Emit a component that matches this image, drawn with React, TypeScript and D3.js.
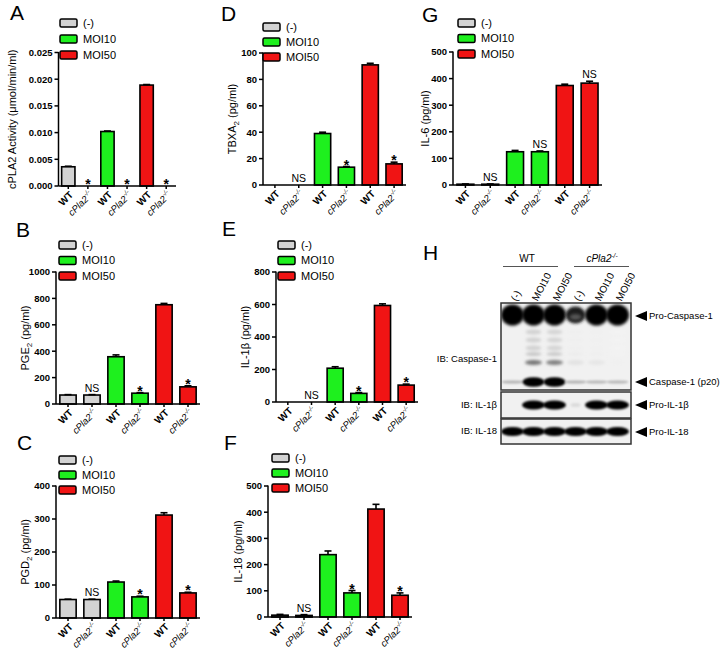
import React from "react";
import * as d3 from "d3";

const FONT = "'Liberation Sans', Arial, Helvetica, sans-serif";

// ---------- data ----------
const legendLabels = ["(-)", "MOI10", "MOI50"];
const barColors = ["#d3d3d3", "#1ef01e", "#f01414"];
const genotypes = ["WT", "cPla2", "WT", "cPla2", "WT", "cPla2"];
const groupIndex = [0, 0, 1, 1, 2, 2];

const cpla2Activity = [0.0036, 0, 0.0102, 0, 0.0189, 0];
const cpla2Err = [0.0001, 0, 0.0001, 0, 0.0001, 0];
const cpla2Marks = ["", "*", "", "*", "", "*"];
const cpla2Ticks = [0, 0.005, 0.01, 0.015, 0.02, 0.025];

const pge2 = [68, 68, 358, 82, 752, 130];
const pge2Err = [3, 3, 14, 4, 10, 8];
const pge2Marks = ["", "NS", "", "*", "", "*"];
const pge2Ticks = [0, 200, 400, 600, 800, 1000];

const pgd2 = [56, 56, 109, 64, 312, 76];
const pgd2Err = [1, 1, 3, 2, 7, 2];
const pgd2Marks = ["", "NS", "", "*", "", "*"];
const pgd2Ticks = [0, 100, 200, 300, 400];

const tbxa2 = [0, 0, 39, 13.5, 91, 16];
const tbxa2Err = [0, 0, 1, 0.5, 1.2, 1.3];
const tbxa2Marks = ["", "NS", "", "*", "", "*"];
const tbxa2Ticks = [0, 20, 40, 60, 80, 100];

const il1b = [0, 0, 208, 53, 594, 104];
const il1bErr = [0, 0, 9, 5, 10, 6];
const il1bMarks = ["", "NS", "", "*", "", "*"];
const il1bTicks = [0, 200, 400, 600, 800];

const il18 = [7, 6, 238, 92, 412, 83];
const il18Err = [3, 3, 14, 9, 18, 9];
const il18Marks = ["", "NS", "", "*", "", "*"];
const il18Ticks = [0, 100, 200, 300, 400, 500];

const il6 = [3, 3, 125, 125, 374, 383];
const il6Err = [1, 1, 5, 3, 5, 7];
const il6Marks = ["", "NS", "", "NS", "", "NS"];
const il6Ticks = [0, 100, 200, 300, 400, 500];

// western blot
const blotGroups = ["WT", "cPla2"];
const laneLabels = ["(-)", "MOI10", "MOI50", "(-)", "MOI10", "MOI50"];
const proCasp1 = [1, 1, 1, 0.8, 1, 1];
const casp1p20 = [0.12, 1, 1, 0.12, 0.1, 0.1];
const casp1Smear = [0, 0.45, 0.42, 0.1, 0.08, 0.03];
const proIl1b = [0, 1, 1, 0.15, 1, 1];
const proIl18 = [1, 1, 1, 1, 1, 1];
const blotTargets = ["Pro-Caspase-1", "Caspase-1 (p20)", "Pro-IL-1β", "Pro-IL-18"];

// ---------- layout ----------
type Layout = {
  letter: string; lx: number; ly: number;
  x0: number; x1: number; yTop: number; yBot: number;
  labelX: number; legX: number; legY: number; legStep: number;
};

const L: Record<string, Layout> = {
  A: { letter: "A", lx: 10, ly: 20, x0: 58.5, x1: 176, yTop: 52.5, yBot: 186, labelX: 12, legX: 60, legY: 23, legStep: 16 },
  B: { letter: "B", lx: 16, ly: 237, x0: 56, x1: 200, yTop: 272, yBot: 404, labelX: 25, legX: 59, legY: 245, legStep: 15.5 },
  C: { letter: "C", lx: 17, ly: 450, x0: 56, x1: 200, yTop: 486, yBot: 618, labelX: 25, legX: 59, legY: 460, legStep: 15 },
  D: { letter: "D", lx: 221, ly: 21, x0: 263, x1: 406, yTop: 53, yBot: 185, labelX: 232, legX: 263, legY: 27, legStep: 15 },
  E: { letter: "E", lx: 222, ly: 236, x0: 276, x1: 418, yTop: 272, yBot: 402, labelX: 245, legX: 278, legY: 245, legStep: 15.5 },
  F: { letter: "F", lx: 224, ly: 450, x0: 268, x1: 412, yTop: 486, yBot: 617, labelX: 238, legX: 272, legY: 458, legStep: 15 },
  G: { letter: "G", lx: 422, ly: 22, x0: 453, x1: 602, yTop: 52, yBot: 185, labelX: 425, legX: 458, legY: 23, legStep: 15.5 },
};

type PanelProps = {
  lay: Layout;
  values: number[];
  errs: number[];
  marks: string[];
  ticks: number[];
  fmt: (v: number) => string;
  yLabel: React.ReactNode;
};

function BarPanel({ lay, values, errs, marks, ticks, fmt, yLabel }: PanelProps) {
  const x = d3
    .scaleBand<number>()
    .domain(d3.range(values.length))
    .range([lay.x0, lay.x1])
    .paddingInner(0.32)
    .paddingOuter(0.16);
  const y = d3
    .scaleLinear()
    .domain([0, ticks[ticks.length - 1]])
    .range([lay.yBot, lay.yTop]);
  const bw = x.bandwidth();
  const cy = (lay.yTop + lay.yBot) / 2;
  return (
    <g fontFamily={FONT}>
      <text x={lay.lx} y={lay.ly} fontSize={21}>
        {lay.letter}
      </text>
      <text
        transform={`translate(${lay.labelX},${cy}) rotate(-90)`}
        textAnchor="middle"
        dy="0.35em"
        fontSize={11}
      >
        {yLabel}
      </text>
      {values.map((v, i) => {
        const cx = (x(i) as number) + bw / 2;
        const top = y(v);
        const et = y(v + errs[i]);
        return (
          <g key={i}>
            {v > 0 && (
              <rect
                x={x(i)}
                y={top}
                width={bw}
                height={lay.yBot - top}
                fill={barColors[groupIndex[i]]}
                stroke="#000"
                strokeWidth={1.6}
              />
            )}
            {v > 0 && errs[i] > 0 && (
              <g stroke="#000" strokeWidth={1.6}>
                <line x1={cx} x2={cx} y1={top} y2={et} />
                <line x1={cx - 3.5} x2={cx + 3.5} y1={et} y2={et} />
              </g>
            )}
            {marks[i] === "*" && (
              <text x={cx} y={et + 3} textAnchor="middle" fontSize={14} fontWeight="bold">
                *
              </text>
            )}
            {marks[i] === "NS" && (
              <text x={cx} y={et - 3} textAnchor="middle" fontSize={10.5}>
                NS
              </text>
            )}
          </g>
        );
      })}
      <g stroke="#000" strokeWidth={1.5}>
        <line x1={lay.x0} x2={lay.x0} y1={lay.yTop - 0.5} y2={lay.yBot} />
        <line x1={lay.x0} x2={lay.x1} y1={lay.yBot} y2={lay.yBot} />
        {ticks.map((t) => (
          <line key={t} x1={lay.x0 - 4} x2={lay.x0} y1={y(t)} y2={y(t)} />
        ))}
        {values.map((_, i) => {
          const cx = (x(i) as number) + bw / 2;
          return <line key={i} x1={cx} x2={cx} y1={lay.yBot} y2={lay.yBot + 3} />;
        })}
      </g>
      {ticks.map((t) => (
        <text
          key={t}
          x={lay.x0 - 6}
          y={y(t)}
          dy="0.35em"
          textAnchor="end"
          fontSize={9.5}
          fontWeight="bold"
        >
          {fmt(t)}
        </text>
      ))}
      {genotypes.map((g, i) => {
        const cx = (x(i) as number) + bw / 2;
        return (
          <text
            key={i}
            transform={`translate(${cx + 3},${lay.yBot + 7}) rotate(-45)`}
            textAnchor="end"
            dy="0.35em"
            fontSize={g === "WT" ? 10 : 9.5}
            fontWeight={g === "WT" ? "bold" : "normal"}
            fontStyle={g === "WT" ? "normal" : "italic"}
          >
            {g === "WT" ? (
              "WT"
            ) : (
              <>
                {g}
                <tspan fontSize={6.5} dy={-4}>
                  -/-
                </tspan>
              </>
            )}
          </text>
        );
      })}
      {legendLabels.map((lab, k) => {
        const ry = lay.legY + k * lay.legStep;
        return (
          <g key={lab}>
            <rect
              x={lay.legX}
              y={ry - 4}
              width={17}
              height={8}
              rx={1.5}
              fill={barColors[k]}
              stroke="#000"
              strokeWidth={1.5}
            />
            <text x={lay.legX + 23} y={ry} dy="0.36em" fontSize={11}>
              {lab}
            </text>
          </g>
        );
      })}
    </g>
  );
}

function Blot() {
  const bx0 = 501;
  const bx1 = 631;
  const lane = d3.scaleBand<number>().domain(d3.range(6)).range([502, 628]);
  const lc = (i: number) => (lane(i) as number) + lane.bandwidth() / 2;
  const rows = [
    { y: 303, h: 87 },
    { y: 392, h: 26 },
    { y: 419, h: 25 },
  ];
  const targetY = [316, 382, 405, 432];
  const leftLabels = [
    { t: "IB: Caspase-1", y: 359 },
    { t: "IB: IL-1β", y: 405 },
    { t: "IB: IL-18", y: 431 },
  ];
  const grey = (k: number) => d3.interpolateGreys(k);
  return (
    <g fontFamily={FONT}>
      <defs>
        <filter id="blur1" x="-50%" y="-50%" width="200%" height="200%">
          <feGaussianBlur stdDeviation="1.6" />
        </filter>
        <filter id="blur2" x="-50%" y="-50%" width="200%" height="200%">
          <feGaussianBlur stdDeviation="1" />
        </filter>
        <filter id="blur3" x="-50%" y="-50%" width="200%" height="200%">
          <feGaussianBlur stdDeviation="1.8" />
        </filter>
        {rows.map((r, k) => (
          <clipPath id={`clip${k}`} key={k}>
            <rect x={bx0} y={r.y} width={bx1 - bx0} height={r.h} />
          </clipPath>
        ))}
      </defs>
      <text x={423} y={260} fontSize={21}>
        H
      </text>
      <text x={527} y={262} textAnchor="middle" fontSize={10}>
        {blotGroups[0]}
      </text>
      <text x={602} y={262} textAnchor="middle" fontSize={10} fontStyle="italic">
        {blotGroups[1]}
        <tspan fontSize={6.5} dy={-4}>
          -/-
        </tspan>
      </text>
      <line x1={503} x2={558} y1={266.5} y2={266.5} stroke="#555" strokeWidth={1.2} />
      <line x1={574} x2={629} y1={266.5} y2={266.5} stroke="#555" strokeWidth={1.2} />
      {laneLabels.map((l, i) => (
        <text
          key={i}
          transform={`translate(${lc(i) + 1},${300}) rotate(-62)`}
          dy="0.35em"
          fontSize={10}
        >
          {l}
        </text>
      ))}
      {rows.map((r, k) => (
        <rect key={k} x={bx0} y={r.y} width={bx1 - bx0} height={r.h} fill="#f1f1f1" />
      ))}
      <g clipPath="url(#clip0)">
        {proCasp1.map((v, i) => (
          <g key={i}>
            <ellipse
              cx={lc(i)}
              cy={315}
              rx={i === 3 ? 10 : 11.5}
              ry={i === 3 ? 8.5 : 10.5}
              fill={grey(0.55 + 0.45 * v)}
              filter="url(#blur1)"
            />
            {i === 3 && (
              <ellipse cx={lc(i)} cy={317} rx={6} ry={3} fill="#555" filter="url(#blur1)" />
            )}
          </g>
        ))}
        {casp1Smear.map((v, i) =>
          v > 0 ? (
            <g key={i} filter="url(#blur3)">
              {[332, 340, 348].map((yy, j) => (
                <ellipse key={j} cx={lc(i)} cy={yy} rx={8} ry={2.6} fill={grey(0.08 + v * 0.45)} />
              ))}
              <ellipse cx={lc(i)} cy={354} rx={8} ry={1.8} fill={grey(0.08 + v * 0.6)} />
              <ellipse cx={lc(i)} cy={362.5} rx={8.5} ry={2.4} fill={grey(0.08 + v * 1.2)} />
            </g>
          ) : null
        )}
        {casp1p20.map((v, i) => (
          <ellipse
            key={i}
            cx={lc(i)}
            cy={382}
            rx={11}
            ry={v > 0.5 ? 4.8 : 1.6}
            fill={grey(0.1 + 0.9 * v + (v < 0.5 ? 0.2 : 0))}
            filter="url(#blur2)"
          />
        ))}
      </g>
      <g clipPath="url(#clip1)">
        {proIl1b.map((v, i) =>
          v > 0 ? (
            <ellipse
              key={i}
              cx={lc(i)}
              cy={405}
              rx={v > 0.5 ? 11.5 : 5}
              ry={v > 0.5 ? 4.6 : 2}
              fill={grey(0.1 + 0.9 * v)}
              filter="url(#blur2)"
            />
          ) : null
        )}
      </g>
      <g clipPath="url(#clip2)">
        {proIl18.map((v, i) => (
          <ellipse
            key={i}
            cx={lc(i)}
            cy={431.5}
            rx={11.5}
            ry={4.6}
            fill={grey(0.1 + 0.9 * v)}
            filter="url(#blur2)"
          />
        ))}
      </g>
      {rows.map((r, k) => (
        <rect
          key={k}
          x={bx0}
          y={r.y}
          width={bx1 - bx0}
          height={r.h}
          fill="none"
          stroke="#333"
          strokeWidth={1.5}
        />
      ))}
      {blotTargets.map((t, k) => (
        <g key={t}>
          <path
            d={`M${635},${targetY[k]} L${647},${targetY[k] - 5} L${647},${targetY[k] + 5} Z`}
            fill="#000"
          />
          <text x={649} y={targetY[k]} dy="0.35em" fontSize={9.5}>
            {t}
          </text>
        </g>
      ))}
      {leftLabels.map((l) => (
        <text key={l.t} x={497} y={l.y} dy="0.35em" textAnchor="end" fontSize={9.5}>
          {l.t}
        </text>
      ))}
    </g>
  );
}

const fmt3 = d3.format(".3f");
const fmtD = d3.format("d");

export default function App() {
  return (
    <svg
      width={724}
      height={656}
      style={{ position: "absolute", left: 0, top: 0, background: "#fff" }}
    >
      <rect width={724} height={656} fill="#fff" />
      <BarPanel
        lay={L.A}
        values={cpla2Activity}
        errs={cpla2Err}
        marks={cpla2Marks}
        ticks={cpla2Ticks}
        fmt={fmt3}
        yLabel={"cPLA2 Activity  (μmol/min/ml)"}
      />
      <BarPanel
        lay={L.B}
        values={pge2}
        errs={pge2Err}
        marks={pge2Marks}
        ticks={pge2Ticks}
        fmt={fmtD}
        yLabel={
          <>
            PGE<tspan fontSize={8} dy={3}>2</tspan>
            <tspan dy={-3}> (pg/ml)</tspan>
          </>
        }
      />
      <BarPanel
        lay={L.C}
        values={pgd2}
        errs={pgd2Err}
        marks={pgd2Marks}
        ticks={pgd2Ticks}
        fmt={fmtD}
        yLabel={
          <>
            PGD<tspan fontSize={8} dy={3}>2</tspan>
            <tspan dy={-3}> (pg/ml)</tspan>
          </>
        }
      />
      <BarPanel
        lay={L.D}
        values={tbxa2}
        errs={tbxa2Err}
        marks={tbxa2Marks}
        ticks={tbxa2Ticks}
        fmt={fmtD}
        yLabel={
          <>
            TBXA<tspan fontSize={8} dy={3}>2</tspan>
            <tspan dy={-3}> (pg/ml)</tspan>
          </>
        }
      />
      <BarPanel
        lay={L.E}
        values={il1b}
        errs={il1bErr}
        marks={il1bMarks}
        ticks={il1bTicks}
        fmt={fmtD}
        yLabel={"IL-1β (pg/ml)"}
      />
      <BarPanel
        lay={L.F}
        values={il18}
        errs={il18Err}
        marks={il18Marks}
        ticks={il18Ticks}
        fmt={fmtD}
        yLabel={"IL-18 (pg/ml)"}
      />
      <BarPanel
        lay={L.G}
        values={il6}
        errs={il6Err}
        marks={il6Marks}
        ticks={il6Ticks}
        fmt={fmtD}
        yLabel={"IL-6 (pg/ml)"}
      />
      <Blot />
    </svg>
  );
}
